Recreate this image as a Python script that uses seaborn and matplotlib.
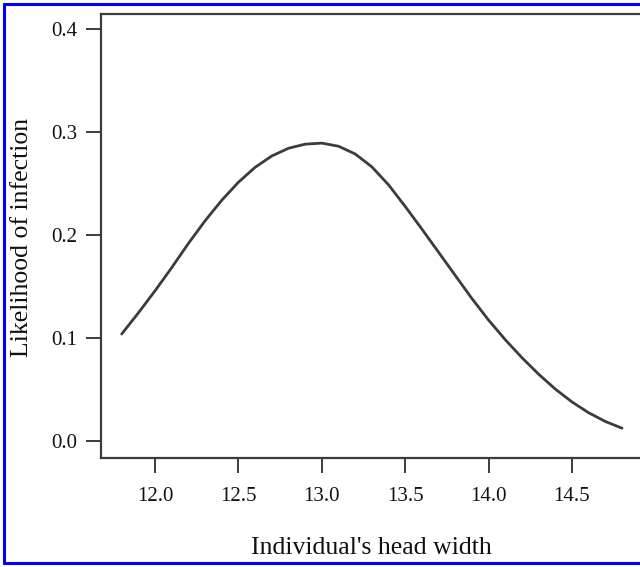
import numpy as np
import pandas as pd
import matplotlib
matplotlib.use("Agg")
import matplotlib.pyplot as plt
import seaborn as sns
from matplotlib.lines import Line2D

# === Data ===
head_width = [11.8, 11.9, 12.0, 12.1, 12.2, 12.3, 12.4, 12.5, 12.6, 12.7,
              12.8, 12.9, 13.0, 13.1, 13.2, 13.3, 13.4, 13.5, 13.6, 13.7,
              13.8, 13.9, 14.0, 14.1, 14.2, 14.3, 14.4, 14.5, 14.6, 14.7, 14.8]
likelihood = [0.104, 0.1245, 0.146, 0.1685, 0.192, 0.214, 0.234, 0.2515, 0.266, 0.277,
              0.2845, 0.2885, 0.2895, 0.2865, 0.279, 0.2665, 0.249, 0.228, 0.206, 0.1835,
              0.161, 0.1385, 0.1175, 0.0985, 0.081, 0.065, 0.0505, 0.038, 0.0275, 0.019, 0.0125]
x_ticks = [12.0, 12.5, 13.0, 13.5, 14.0, 14.5]
y_ticks = [0.0, 0.1, 0.2, 0.3, 0.4]

df = pd.DataFrame({"head_width": head_width, "likelihood": likelihood})

sns.set_style("white")
plt.rcParams["font.family"] = ["Liberation Serif", "DejaVu Serif"]

ink = "#3c3c3c"
W, H = 640, 567
fig = plt.figure(figsize=(W / 100, H / 100), dpi=100)
ax = fig.add_axes([101 / W, (H - 458) / H, (642 - 101) / W, (458 - 14) / H])

sns.lineplot(data=df, x="head_width", y="likelihood", ax=ax,
             color=ink, linewidth=2.0)

ax.set_xlim(11.676, 14.92)
ax.set_ylim(-0.0165, 0.415)
ax.set_xticks(x_ticks)
ax.set_xticklabels([f"{v:.1f}" for v in x_ticks])
ax.set_yticks(y_ticks)
ax.set_yticklabels([f"{v:.1f}" for v in y_ticks])

for side in ["left", "bottom", "top"]:
    ax.spines[side].set_color(ink)
    ax.spines[side].set_linewidth(1.6)
ax.spines["right"].set_visible(False)

ax.tick_params(axis="both", direction="out", length=11, width=1.4,
               color=ink, labelsize=15, labelcolor="#111111")
ax.tick_params(axis="x", pad=10, bottom=True)
ax.tick_params(axis="y", pad=6, left=True)

ax.set_xlabel("Individual's head width", fontsize=18.5, color="#111111")
ax.set_ylabel("Likelihood of infection", fontsize=18.5, color="#111111")
ax.xaxis.set_label_coords(0.499, -0.203)
ax.xaxis.label.set_va("center")
ax.yaxis.set_label_coords(-0.146, 0.497)
ax.yaxis.label.set_va("center")

# blue frame round the figure (left, top, bottom)
blue = "#0000ff"
fig.add_artist(Line2D([4 / W, 4 / W], [4 / H, 1 - 4 / H], color=blue, lw=2.2))
fig.add_artist(Line2D([4 / W, 1], [1 - 4 / H, 1 - 4 / H], color=blue, lw=2.2))
fig.add_artist(Line2D([4 / W, 1], [4 / H, 4 / H], color=blue, lw=2.2))

fig.savefig("out.png", dpi=100)
